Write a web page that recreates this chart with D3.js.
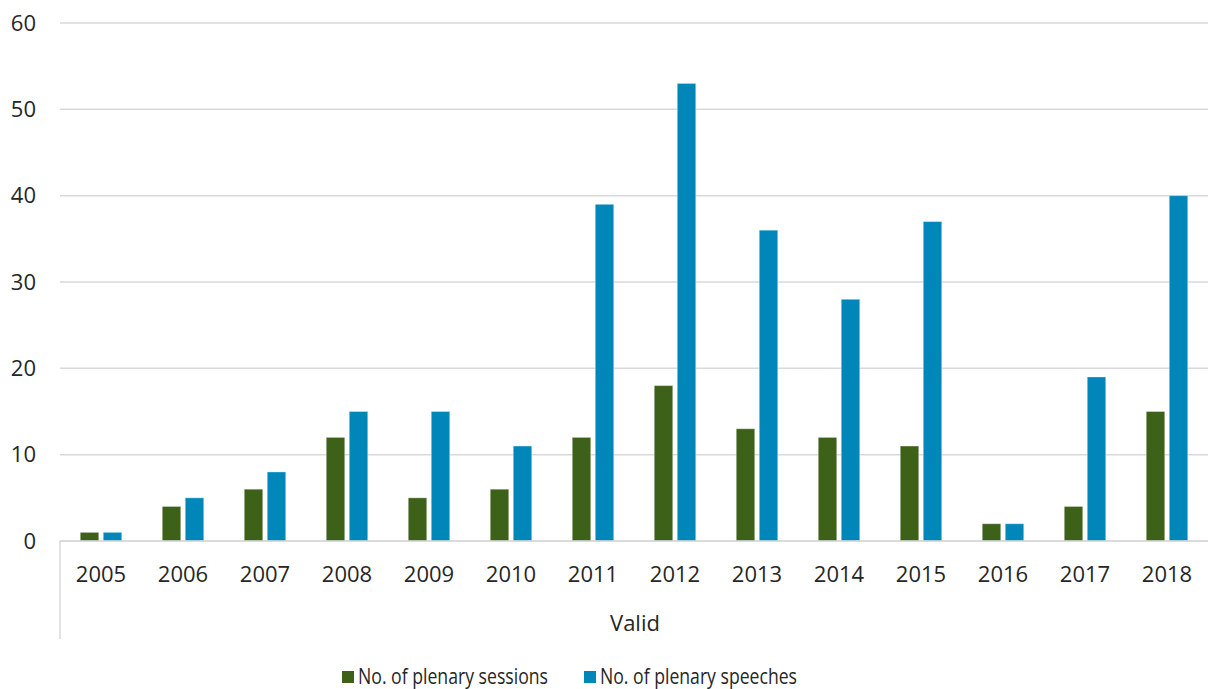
<!DOCTYPE html>
<html><head><meta charset="utf-8">
<script src="https://cdn.jsdelivr.net/npm/d3@7"></script>
<style>body{margin:0;background:#fff}svg{display:block}text{font-family:"Open Sans",sans-serif;fill:#262626}</style>
</head><body><svg id="c" width="1208" height="689"></svg>
<script>
const years=["2005","2006","2007","2008","2009","2010","2011","2012","2013","2014","2015","2016","2017","2018"];
const sessions=[1,4,6,12,5,6,12,18,13,12,11,2,4,15];
const speeches=[1,5,8,15,15,11,39,53,36,28,37,2,19,40];
const seriesNames=["No. of plenary sessions","No. of plenary speeches"];
const colors=["#3d6119","#0086b9"];
const yTicks=[0,10,20,30,40,50,60];

const svg=d3.select("#c");
const L=60,R=1208,T=23,B=541;
const x=d3.scaleBand().domain(years).range([L,R]).padding(0);
const y=d3.scaleLinear().domain([0,60]).range([B,T]);
const g=svg.append("g");
g.selectAll("line.grid").data(yTicks).join("line")
 .attr("x1",L).attr("x2",R).attr("y1",d=>y(d)).attr("y2",d=>y(d))
 .attr("stroke","#d9d9d9").attr("stroke-width",1.5);
g.selectAll("text.yl").data(yTicks).join("text")
 .attr("x",36).attr("y",d=>y(d)).attr("dy","0.35em").attr("text-anchor","end")
 .attr("font-size",22).text(d=>d);
const bw=18.5,gap=4.5;
const data=years.map((yr,i)=>({yr,vals:[sessions[i],speeches[i]]}));
data.forEach(d=>{
  d.vals.forEach((v,k)=>{
    const cx=x(d.yr)+x.bandwidth()/2;
    const x0=k===0?cx-gap/2-bw:cx+gap/2;
    g.append("rect").attr("x",x0).attr("y",y(v)).attr("width",bw).attr("height",y(0)-y(v))
     .attr("fill",colors[k]).attr("stroke","#ffffff").attr("stroke-opacity",0.35).attr("stroke-width",1);
  });
});
g.append("line").attr("x1",L).attr("x2",R).attr("y1",B).attr("y2",B).attr("stroke","#d9d9d9").attr("stroke-width",1.5);
g.append("line").attr("x1",L).attr("x2",L).attr("y1",B).attr("y2",639).attr("stroke","#d9d9d9").attr("stroke-width",1.5);
g.selectAll("text.xl").data(years).join("text")
 .attr("x",d=>x(d)+x.bandwidth()/2).attr("y",582).attr("text-anchor","middle")
 .attr("font-size",22).text(d=>d);
g.append("text").attr("x",635).attr("y",631).attr("text-anchor","middle").attr("font-size",22).text("Valid");
const lg=[{x:342,w:190},{x:584,w:197}];
seriesNames.forEach((n,k)=>{
  g.append("rect").attr("x",lg[k].x).attr("y",671).attr("width",12).attr("height",12).attr("fill",colors[k]);
  g.append("text").attr("x",lg[k].x+16).attr("y",684).attr("font-size",22)
   .attr("textLength",lg[k].w).attr("lengthAdjust","spacingAndGlyphs").text(n);
});
</script></body></html>
